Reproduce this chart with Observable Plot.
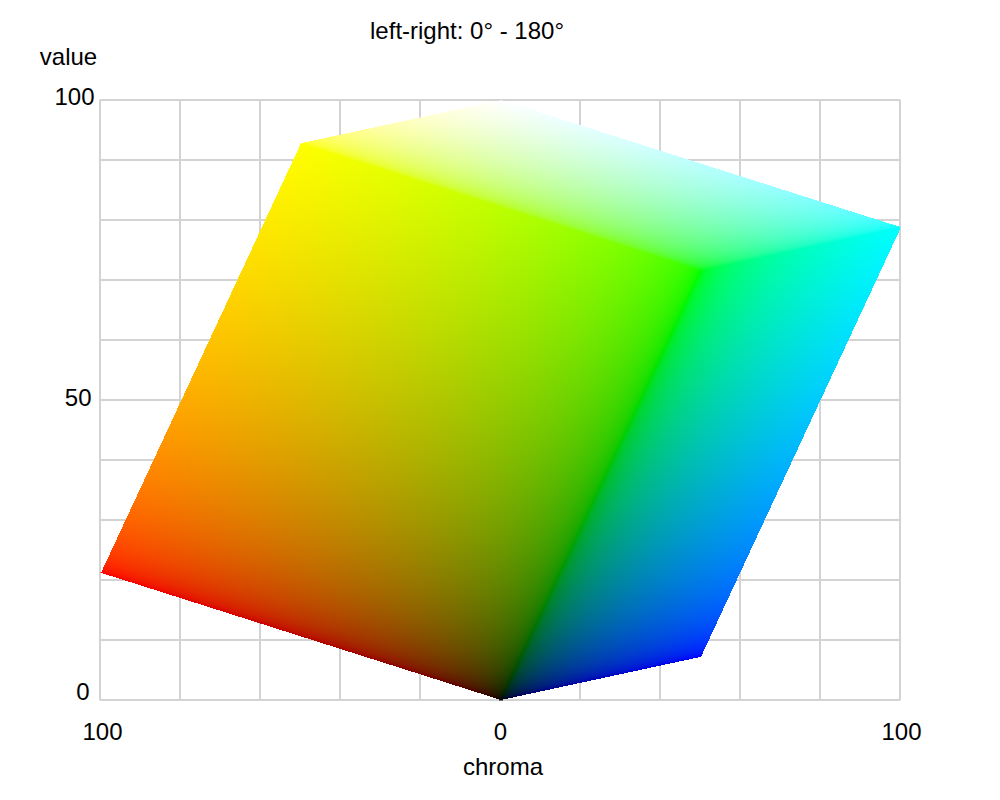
<!DOCTYPE html>
<html>
<head>
<meta charset="utf-8">
<script src="https://cdn.jsdelivr.net/npm/d3@7"></script>
<script src="https://cdn.jsdelivr.net/npm/@observablehq/plot@0.6"></script>
<style>html,body{margin:0;padding:0;background:#fff}svg{display:block}</style>
</head>
<body>
<div id="chart"></div>
<script>
// Cube corners: [chroma (signed), value]
const redCorner = [-100, 21.2];
const greenCorner = [50, 71.6];
const blueCorner = [50, 7.2];
const xGrid = [-100, -80, -60, -40, -20, 0, 20, 40, 60, 80, 100];
const yGrid = [0, 10, 20, 30, 40, 50, 60, 70, 80, 90, 100];
const xTickValues = [-100, 0, 100];
const xTickDx = [2, 0, 1];
const yTickValues = [100, 50, 0];
const yTickDy = [-3, -2, -8];
const yTickDx = [-6, -9, -11];

const font = "Liberation Sans, Arial, sans-serif";

function solve(a, b, px, py) {
  const det = a[0] * b[1] - a[1] * b[0];
  return [(px * b[1] - py * b[0]) / det, (a[0] * py - a[1] * px) / det];
}
const inUnit = (u) => u >= 0 && u <= 1;
const encode = (u) => (u <= 0.0031308 ? 12.92 * u : 1.055 * Math.pow(u, 1 / 2.4) - 0.055);
const css = (r, g, b) => `rgb(${Math.round(encode(r) * 255)},${Math.round(encode(g) * 255)},${Math.round(encode(b) * 255)})`;

function cubeColor(x, y) {
  let [r, g] = solve(redCorner, greenCorner, x, y);
  if (inUnit(r) && inUnit(g)) return css(r, g, 0);
  let [g2, b2] = solve(greenCorner, blueCorner, x, y);
  if (inUnit(g2) && inUnit(b2)) return css(0, g2, b2);
  let [r3, b3] = solve(redCorner, blueCorner, x - greenCorner[0], y - greenCorner[1]);
  if (inUnit(r3) && inUnit(b3)) return css(r3, 1, b3);
  return null;
}
function cubeOpacity(x, y) { return cubeColor(x, y) === null ? 0 : 1; }

const plot = Plot.plot({
  width: 1000,
  height: 800,
  marginTop: 100,
  marginRight: 100,
  marginBottom: 100,
  marginLeft: 100,
  style: {fontFamily: font, fontSize: "24px", color: "#000", background: "#fff"},
  x: {domain: [-100, 100], axis: null},
  y: {domain: [0, 100], axis: null},
  color: {type: "identity"},
  marks: [
    Plot.ruleX(xGrid, {stroke: "#d3d3d3", strokeWidth: 2, dx: -0.5}),
    Plot.ruleY(yGrid, {stroke: "#d3d3d3", strokeWidth: 2, dy: -0.5}),
    Plot.raster({
      fill: (x, y) => cubeColor(x, y) ?? "#000",
      fillOpacity: cubeOpacity,
      x1: -100, x2: 100, y1: 0, y2: 100,
      pixelSize: 1,
      imageRendering: "pixelated"
    }),
    ...xTickValues.map((v, i) => Plot.text([v], {x: d => d, y: 0, text: d => String(Math.abs(d)), dx: xTickDx[i], dy: 32, fontSize: 24, fill: "#000"})),
    ...yTickValues.map((v, i) => Plot.text([v], {x: -100, y: d => d, text: d => String(d), textAnchor: "end", dx: yTickDx[i], dy: yTickDy[i], fontSize: 24, fill: "#000"})),
    Plot.text(["chroma"], {x: 0, y: 0, text: d => d, dx: 2.5, dy: 67, fontSize: 24, fill: "#000"}),
    Plot.text(["value"], {x: -100, y: 100, text: d => d, dx: -32, dy: -43, fontSize: 24, fill: "#000"}),
    Plot.text(["left-right: 0° - 180°"], {x: 0, y: 100, text: d => d, dx: -33.5, dy: -69, fontSize: 24, fill: "#000"})
  ]
});
document.getElementById("chart").appendChild(plot);
</script>
</body>
</html>
